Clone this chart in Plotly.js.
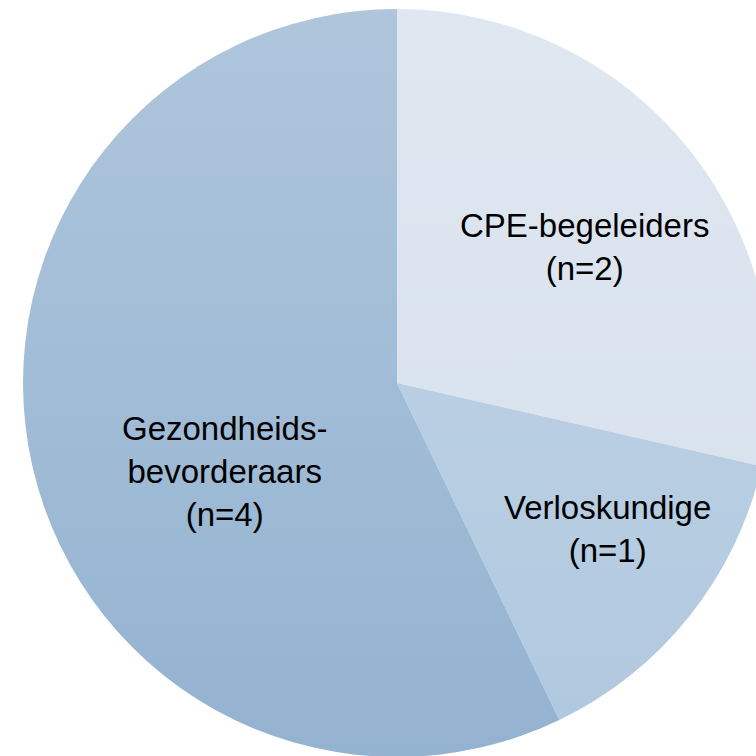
<!DOCTYPE html>
<html>
<head>
<meta charset="utf-8">
<script src="https://cdn.plot.ly/plotly-3.0.1.min.js"></script>
<style>
html, body { margin: 0; padding: 0; overflow: hidden; background: #ffffff; }
#chart { width: 850px; height: 850px; }
</style>
</head>
<body>
<div id="chart"></div>
<script>
const categories = ["CPE-begeleiders", "Verloskundige", "Gezondheidsbevorderaars"];
const displayLabels = ["CPE-begeleiders", "Verloskundige", "Gezondheids-<br>bevorderaars"];
const counts = [2, 1, 4];
const sliceColors = ["#d5e0ec", "#b0c8df", "#94b3d1"];

const texts = displayLabels.map((l, i) => l + "<br>(n=" + counts[i] + ")");

const W = 850, H = 850;
const cx = 397, cy = 383, r = 374;
// label anchor points (pixels) for each slice
const labelPx = [[584, 247], [607, 529], [224, 471]];

const gradientSvg = '<svg xmlns="http://www.w3.org/2000/svg" width="100" height="100" preserveAspectRatio="none">' +
  '<defs><linearGradient id="g" x1="0" y1="0" x2="0" y2="1">' +
  '<stop offset="0" stop-color="#ffffff" stop-opacity="0.25"/>' +
  '<stop offset="1" stop-color="#ffffff" stop-opacity="0"/>' +
  '</linearGradient></defs><rect width="100" height="100" fill="url(#g)"/></svg>';

const trace = {
  type: "pie",
  labels: categories,
  values: counts,
  textinfo: "none",
  sort: false,
  direction: "clockwise",
  rotation: 0,
  hoverinfo: "none",
  marker: { colors: sliceColors, line: { width: 0 } },
  domain: { x: [(cx - r) / W, (cx + r) / W], y: [(H - cy - r) / H, (H - cy + r) / H] }
};

const annotations = texts.map((t, i) => ({
  text: t,
  xref: "paper", yref: "paper",
  x: labelPx[i][0] / W, y: (H - labelPx[i][1]) / H,
  xanchor: "center", yanchor: "middle",
  align: "center",
  showarrow: false,
  font: { family: "Liberation Sans, Arial, sans-serif", size: 33, color: "#000000" }
}));

const layout = {
  width: W, height: H,
  margin: { l: 0, r: 0, t: 0, b: 0 },
  paper_bgcolor: "#ffffff",
  showlegend: false,
  annotations: annotations,
  images: [{
    source: "data:image/svg+xml;charset=utf-8," + encodeURIComponent(gradientSvg),
    xref: "paper", yref: "paper",
    x: (cx - r) / W, y: (H - cy + r) / H,
    sizex: 2 * r / W, sizey: 2 * r / H,
    xanchor: "left", yanchor: "top",
    sizing: "stretch", layer: "above", opacity: 1
  }]
};

Plotly.newPlot("chart", [trace], layout, { displayModeBar: false, staticPlot: true });
</script>
</body>
</html>
